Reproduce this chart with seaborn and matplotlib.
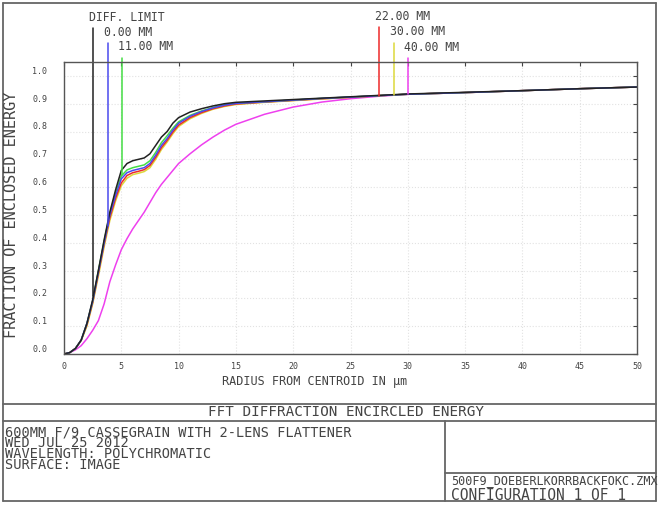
import numpy as np
import pandas as pd
import matplotlib
matplotlib.use('Agg')
import matplotlib.pyplot as plt
import matplotlib.transforms as mtransforms
from matplotlib.lines import Line2D
import seaborn as sns

# 데이터: 반경 (µm) 과 각 필드별 encircled energy
radius = [0, 0.5, 1, 1.5, 2, 2.5, 3, 3.5, 4, 4.5, 5, 5.5, 6, 6.5, 7, 7.5, 8, 8.5, 9, 9.5, 10,
          11, 12, 13, 14, 15, 17.5, 20, 22.5, 25, 27.5, 30, 35, 40, 45, 50]

ee_diff = [0, 0.005, 0.02, 0.05, 0.11, 0.195, 0.30, 0.41, 0.51, 0.59, 0.66, 0.685, 0.695,
           0.70, 0.705, 0.72, 0.75, 0.78, 0.80, 0.83, 0.85,
           0.87, 0.882, 0.892, 0.90, 0.905, 0.91, 0.915, 0.92, 0.925, 0.93, 0.935,
           0.941, 0.947, 0.954, 0.96]
ee_0mm = [0, 0.005, 0.02, 0.05, 0.11, 0.19, 0.295, 0.40, 0.50, 0.57, 0.63, 0.652, 0.66,
          0.665, 0.67, 0.685, 0.715, 0.75, 0.775, 0.805, 0.83,
          0.855, 0.872, 0.885, 0.895, 0.901, 0.907, 0.913, 0.919, 0.924, 0.929, 0.934,
          0.94, 0.947, 0.954, 0.96]
ee_11mm = [0, 0.005, 0.02, 0.05, 0.11, 0.19, 0.30, 0.405, 0.505, 0.58, 0.64, 0.662, 0.67,
           0.675, 0.68, 0.695, 0.725, 0.76, 0.785, 0.812, 0.835,
           0.858, 0.874, 0.886, 0.896, 0.902, 0.907, 0.913, 0.919, 0.924, 0.929, 0.934,
           0.94, 0.947, 0.954, 0.96]
ee_22mm = [0, 0.005, 0.02, 0.05, 0.105, 0.185, 0.29, 0.395, 0.49, 0.56, 0.615, 0.642, 0.652,
           0.657, 0.663, 0.678, 0.707, 0.742, 0.768, 0.798, 0.823,
           0.85, 0.868, 0.882, 0.892, 0.899, 0.906, 0.912, 0.918, 0.923, 0.929, 0.934,
           0.94, 0.947, 0.954, 0.96]
ee_30mm = [0, 0.005, 0.02, 0.048, 0.10, 0.18, 0.28, 0.385, 0.48, 0.55, 0.605, 0.632, 0.645,
           0.65, 0.656, 0.67, 0.70, 0.735, 0.762, 0.792, 0.818,
           0.846, 0.865, 0.88, 0.89, 0.897, 0.905, 0.911, 0.917, 0.923, 0.929, 0.934,
           0.94, 0.947, 0.954, 0.96]
ee_40mm = [0, 0.005, 0.015, 0.03, 0.055, 0.085, 0.12, 0.18, 0.26, 0.32, 0.375, 0.415, 0.45,
           0.48, 0.51, 0.545, 0.58, 0.61, 0.635, 0.66, 0.685,
           0.72, 0.752, 0.78, 0.805, 0.826, 0.862, 0.888, 0.906, 0.918, 0.927, 0.934,
           0.94, 0.947, 0.954, 0.96]

series_names = ['DIFF. LIMIT', '0.00 MM', '11.00 MM', '22.00 MM', '30.00 MM', '40.00 MM']
series_values = [ee_diff, ee_0mm, ee_11mm, ee_22mm, ee_30mm, ee_40mm]
# 각 곡선 위의 표시선 위치 (반경)
marker_radius = [2.56, 3.8, 5.05, 27.5, 28.8, 30.0]

x_ticks = [0, 5, 10, 15, 20, 25, 30, 35, 40, 45, 50]
y_ticks = [0.0, 0.1, 0.2, 0.3, 0.4, 0.5, 0.6, 0.7, 0.8, 0.9, 1.0]

title_text = 'FFT DIFFRACTION ENCIRCLED ENERGY'
info_lines = ['600MM F/9 CASSEGRAIN WITH 2-LENS FLATTENER',
              'WED JUL 25 2012',
              'WAVELENGTH: POLYCHROMATIC',
              'SURFACE: IMAGE']
file_lines = ['500F9_DOEBERLKORRBACKFOKC.ZMX', 'CONFIGURATION 1 OF 1']

colors = ['#222222', '#4a4aee', '#44dd44', '#ee2a2a', '#dcd83c', '#ee40ee']

# --- 데이터프레임 ---
df = pd.DataFrame({
    'radius': np.tile(radius, len(series_names)),
    'energy': np.concatenate(series_values),
    'field': np.repeat(series_names, len(radius)),
})

sns.set_theme(style='white')
plt.rcParams['font.family'] = ['DejaVu Sans Mono', 'DejaVu Sans']

W, H = 659, 505
fig = plt.figure(figsize=(W / 100, H / 100), dpi=100)
fig.patch.set_facecolor('white')


def fx(x):
    return x / W


def fy(y):
    return 1 - y / H


ax = fig.add_axes([fx(64), fy(354), fx(637) - fx(64), fy(62) - fy(354)])

# 마젠타 곡선 먼저, 나머지 위에
order = [5, 4, 3, 2, 1, 0]
sns.lineplot(data=df, x='radius', y='energy', hue='field',
             hue_order=[series_names[i] for i in order],
             palette=[colors[i] for i in order],
             estimator=None, linewidth=1.1, legend=False, ax=ax)

ax.set_xlim(0, 50)
ax.set_ylim(0, 1.05)
ax.set_xticks(x_ticks)
ax.set_yticks(y_ticks)
ax.set_xticklabels([str(t) for t in x_ticks])
ax.set_yticklabels(['%.1f' % t for t in y_ticks])
ax.set_xlabel('')
ax.set_ylabel('')
ax.grid(True, color='#e2e2e2', linestyle=':', linewidth=0.8)
ax.tick_params(direction='in', length=3, width=0.8, colors='#444444',
               top=True, right=True, labelsize=6)
ax.tick_params(axis='x', pad=6)
ax.tick_params(axis='y', pad=12)
for s in ax.spines.values():
    s.set_color('#555555')
    s.set_linewidth(1.0)
offset = mtransforms.ScaledTranslation(0, 4 / 72, fig.dpi_scale_trans)
for lab in ax.get_yticklabels():
    lab.set_transform(lab.get_transform() + offset)

# --- 필드 표시선과 라벨 ---
line_tops = [1.173, 1.119, 1.066, 1.176, 1.12, 1.064]
for i, name in enumerate(series_names):
    xr = marker_radius[i]
    yend = np.interp(xr, radius, series_values[i])
    ax.plot([xr, xr], [line_tops[i], yend], color=colors[i], linewidth=1.1,
            clip_on=False)
    ax.text(xr - 0.35, line_tops[i] + 0.038, name, fontsize=8.3, color='#444444',
            ha='left', va='center', clip_on=False)

fig.text(fx(12), fy(215), 'FRACTION OF ENCLOSED ENERGY', rotation=90,
         ha='center', va='center', fontsize=11, color='#444444')
fig.text(fx(315), fy(381), 'RADIUS FROM CENTROID IN µm',
         ha='center', va='center', fontsize=8.5, color='#444444')

# --- 하단 정보 박스 ---
lc = '#666666'
frame = [((3, 3), (656, 3)), ((3, 501), (656, 501)), ((3, 3), (3, 501)),
         ((656, 3), (656, 501)), ((3, 404), (656, 404)), ((3, 421), (656, 421)),
         ((445, 421), (445, 501)), ((445, 473), (656, 473))]
for (x0, y0), (x1, y1) in frame:
    fig.add_artist(Line2D([fx(x0), fx(x1)], [fy(y0), fy(y1)], color=lc,
                          linewidth=1.3, transform=fig.transFigure))

fig.text(fx(346), fy(412.5), title_text, ha='center', va='center',
         fontsize=10.3, color='#444444')
fig.text(fx(5), fy(425), '\n'.join(info_lines), ha='left', va='top',
         fontsize=9.8, linespacing=0.72, color='#444444')
fig.text(fx(451), fy(481), file_lines[0], ha='left', va='center',
         fontsize=8.5, color='#444444')
fig.text(fx(451), fy(496), file_lines[1], ha='left', va='center',
         fontsize=10.5, color='#444444')

fig.savefig('out.png', dpi=100)
